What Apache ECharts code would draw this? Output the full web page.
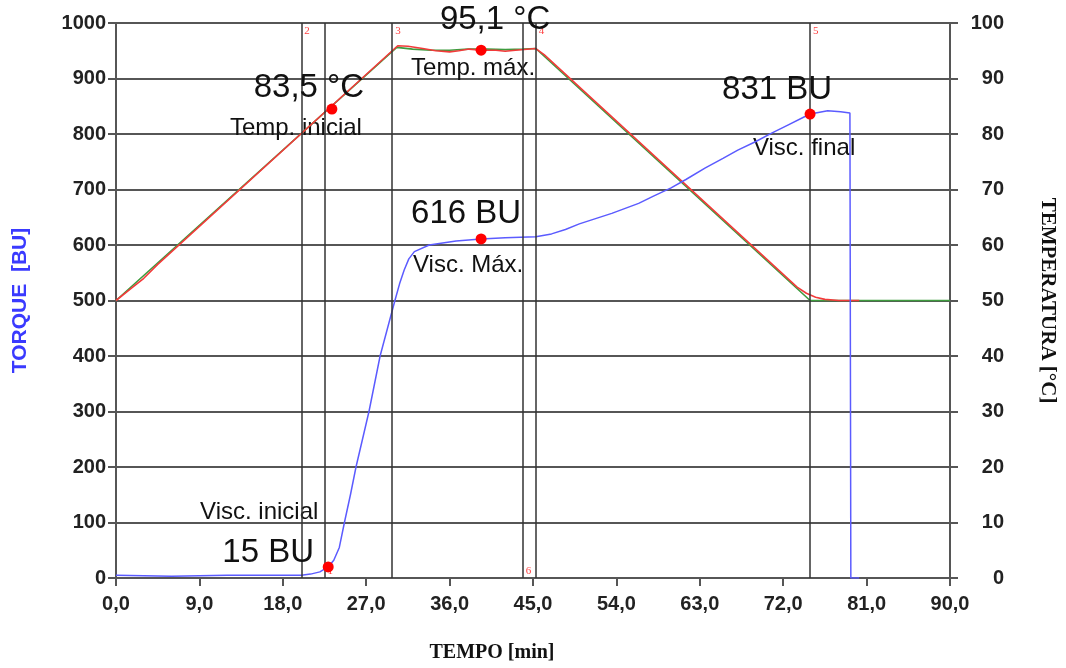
<!DOCTYPE html>
<html>
<head>
<meta charset="utf-8">
<script src="https://cdn.jsdelivr.net/npm/echarts@6/dist/echarts.min.js"></script>
<style>
html,body{margin:0;padding:0;background:#fff}
#main{width:1066px;height:668px}
</style>
</head>
<body>
<div id="main"></div>
<script>
// torque (BU) x tempo (min)
var tempoTorque = [0,3,6,9,12,15,18,20,21,22, 22.9,23.5,24.1,24.65,25.3,25.9,26.6,27.3,27.9,28.5,
                   29.3,30.1,30.6,31.1,31.6,32.2,33.8,36.7,39.4,42, 45.3,47,48.5,50,53.5,56.4,58,59.9,61.5,63.6,
                   65.5,67.1,69,70.7,72.5,74.3,75.5,76.8,78.2,79.2, 79.3,80.2];
var torque = [5,4,3,4,5,5,5,5,7,11, 20,32,55,100,150,200,250,300,350,400,
              450,500,530,555,575,588,600,607,611,613, 615,620,628,638,657,675,688,703,718,739,
              756,771,786,801,816,831,838,842,840,838, 0,0];

// temperatura programada (verde) e medida (vermelha), °C
var tempoVerde = [0,30.3,32,34,36,38,40,42,44,45.3,74.9,90];
var tempVerde  = [50,95.6,95.3,95.1,95.1,95.3,95.3,95.2,95.3,95.4,50,50];
var tempoVermelha = [0,1.5,3,4.5,30.4,31.5,33.1,34.5,36,37,38.1,39.4,41,42,43.1,45.3,46.2,73.5,74.5,75.5,76.5,78,80.2];
var tempVermelha  = [50,52,54,56.5,95.9,95.8,95.4,95.0,94.8,95.0,95.3,95.1,95.1,94.9,95.1,95.4,94.3,52.4,51.3,50.6,50.2,50,50];

// pontos marcados
var viscTempo  = [22.9, 39.4, 74.9];
var viscValor  = [20, 611, 836];
var viscRotulo = ['15 BU', '616 BU', '831 BU'];
var viscNome   = ['Visc. inicial', 'Visc. Máx.', 'Visc. final'];

var tempPontoTempo = [23.3, 39.4];
var tempPontoValor = [84.5, 95.1];
var tempRotulo     = ['83,5 °C', '95,1 °C'];
var tempNome       = ['Temp. inicial', 'Temp. máx.'];

// linhas de evento
var eventos     = [20.0, 22.5, 29.8, 43.9, 45.3, 74.9];
var eventoNomes = ['2', '1', '3', '6', '4', '5'];
var eventoTopo  = [true, false, true, false, true, true];

// deslocamentos dos textos (px)
var viscRotuloOff = [[-60,-14], [-15,-25], [-33,-24]];
var viscNomeOff   = [[-69,-55], [-13,26], [-6,34]];
var tempRotuloOff = [[-23,-21], [14,-30]];
var tempNomeOff   = [[-36,19], [-8,18]];

function pares(xs, ys) {
    return xs.map(function (x, i) { return [x, ys[i]]; });
}

var myChart = echarts.init(document.getElementById('main'));

var gridCor = '#565656';
var tickFonte = {fontFamily: 'Liberation Sans', fontWeight: 'bold', fontSize: 20, color: '#222'};
var textoCor = '#111';

var option = {
    animation: false,
    backgroundColor: '#fff',
    grid: {left: 116, right: 113, top: 23, bottom: 90},
    xAxis: {
        type: 'value', min: 0, max: 90, interval: 9,
        axisLine: {show: true, lineStyle: {color: gridCor, width: 2}},
        axisTick: {show: true, length: 8, lineStyle: {color: gridCor, width: 2}},
        splitLine: {show: false},
        axisLabel: Object.assign({margin: 16, formatter: function (v) { return v.toFixed(1).replace('.', ','); }}, tickFonte),
        name: 'TEMPO [min]', nameLocation: 'middle', nameGap: 65,
        nameTextStyle: {fontFamily: 'Liberation Serif', fontWeight: 'bold', fontSize: 20, color: '#111', padding: [0, 82, 0, 0]}
    },
    yAxis: [
        {
            type: 'value', min: 0, max: 1000, interval: 100, position: 'left',
            axisLine: {show: true, lineStyle: {color: gridCor, width: 2}},
            axisTick: {show: true, length: 8, lineStyle: {color: gridCor, width: 2}},
            splitLine: {show: true, lineStyle: {color: gridCor, width: 2}},
            axisLabel: Object.assign({margin: 10, formatter: function (v) { return String(v); }}, tickFonte),
            name: 'TORQUE  [BU]', nameLocation: 'middle', nameRotate: 90, nameGap: 85,
            nameTextStyle: {fontFamily: 'Liberation Sans', fontWeight: 'bold', fontSize: 21, color: '#3a3aff'}
        },
        {
            type: 'value', min: 0, max: 100, interval: 10, position: 'right',
            axisLine: {show: true, lineStyle: {color: gridCor, width: 2}},
            axisTick: {show: true, length: 8, lineStyle: {color: gridCor, width: 2}},
            splitLine: {show: false},
            axisLabel: Object.assign({margin: 54, align: 'right'}, tickFonte),
            name: 'TEMPERATURA [°C]', nameLocation: 'middle', nameRotate: -90, nameGap: 87,
            nameTextStyle: {fontFamily: 'Liberation Serif', fontWeight: 'bold', fontSize: 21, color: '#111'}
        }
    ],
    series: [
        {
            name: 'Temp. programada', type: 'line', yAxisIndex: 1, showSymbol: false, silent: true,
            lineStyle: {color: '#3e9b3e', width: 1.6},
            data: pares(tempoVerde, tempVerde)
        },
        {
            name: 'Temp. medida', type: 'line', yAxisIndex: 1, showSymbol: false, silent: true,
            lineStyle: {color: '#f23a3a', width: 1.6},
            data: pares(tempoVermelha, tempVermelha)
        },
        {
            name: 'Torque', type: 'line', yAxisIndex: 0, showSymbol: false, silent: true,
            lineStyle: {color: '#5b5bff', width: 1.5},
            data: pares(tempoTorque, torque),
            markLine: {
                silent: true, symbol: 'none', label: {show: false},
                lineStyle: {color: '#333', width: 1.5, type: 'solid'},
                data: eventos.map(function (x) { return {xAxis: x}; })
            }
        },
        {
            // numeros dos eventos
            type: 'scatter', yAxisIndex: 0, symbolSize: 0, silent: true,
            itemStyle: {opacity: 1},
            data: eventos.map(function (x, i) { return {value: [x, eventoTopo[i] ? 985 : 12], nome: eventoNomes[i]}; }),
            label: {show: true, position: 'right', distance: 3, fontFamily: 'Liberation Serif', fontSize: 11, color: '#ff4040',
                    formatter: function (p) { return p.data.nome; }}
        },
        {
            type: 'scatter', yAxisIndex: 0, symbolSize: 11, silent: true, z: 5,
            itemStyle: {color: '#ff0000', opacity: 1},
            data: viscTempo.map(function (x, i) {
                return {value: [x, viscValor[i]], txt: viscRotulo[i], label: {offset: viscRotuloOff[i]}};
            }),
            label: {show: true, position: 'inside', fontFamily: 'Liberation Sans', fontSize: 33, color: textoCor, opacity: 1,
                    formatter: function (p) { return p.data.txt; }}
        },
        {
            type: 'scatter', yAxisIndex: 0, symbolSize: 0, silent: true,
            itemStyle: {opacity: 1},
            data: viscTempo.map(function (x, i) {
                return {value: [x, viscValor[i]], txt: viscNome[i], label: {offset: viscNomeOff[i]}};
            }),
            label: {show: true, position: 'inside', fontFamily: 'Liberation Sans', fontSize: 24, color: textoCor, opacity: 1,
                    formatter: function (p) { return p.data.txt; }}
        },
        {
            type: 'scatter', yAxisIndex: 1, symbolSize: 11, silent: true, z: 5,
            itemStyle: {color: '#ff0000', opacity: 1},
            data: tempPontoTempo.map(function (x, i) {
                return {value: [x, tempPontoValor[i]], txt: tempRotulo[i], label: {offset: tempRotuloOff[i]}};
            }),
            label: {show: true, position: 'inside', fontFamily: 'Liberation Sans', fontSize: 33, color: textoCor, opacity: 1,
                    formatter: function (p) { return p.data.txt; }}
        },
        {
            type: 'scatter', yAxisIndex: 1, symbolSize: 0, silent: true,
            itemStyle: {opacity: 1},
            data: tempPontoTempo.map(function (x, i) {
                return {value: [x, tempPontoValor[i]], txt: tempNome[i], label: {offset: tempNomeOff[i]}};
            }),
            label: {show: true, position: 'inside', fontFamily: 'Liberation Sans', fontSize: 24, color: textoCor, opacity: 1,
                    formatter: function (p) { return p.data.txt; }}
        }
    ]
};

myChart.setOption(option);
</script>
</body>
</html>
